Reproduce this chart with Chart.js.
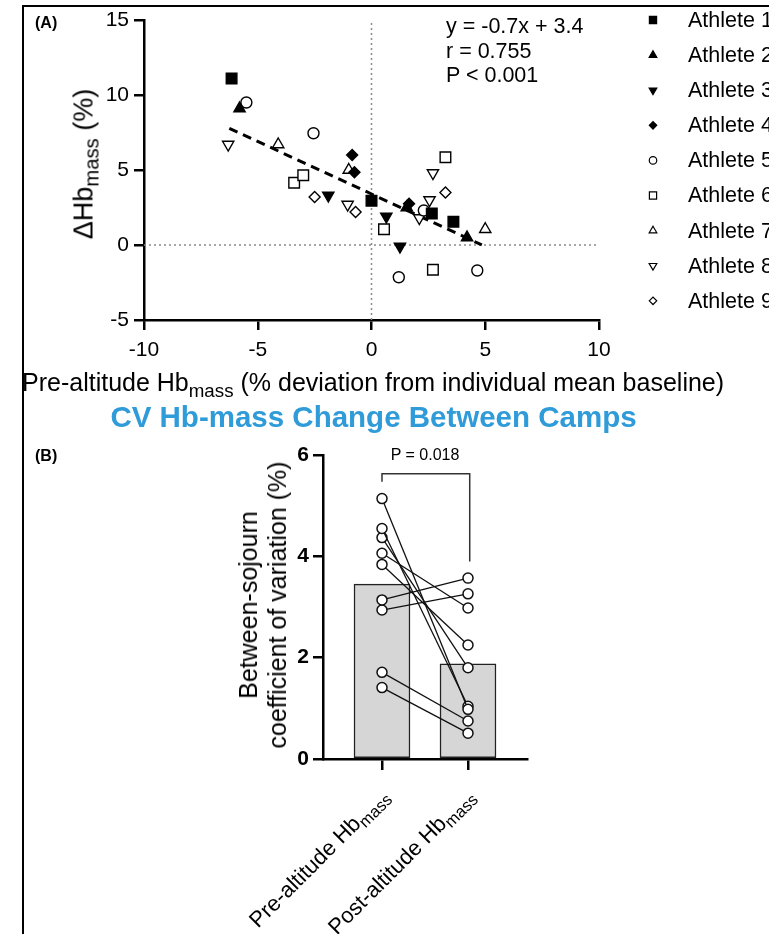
<!DOCTYPE html>
<html>
<head>
<meta charset="utf-8">
<script src="https://cdn.jsdelivr.net/npm/chart.js@4.4.0/dist/chart.umd.min.js"></script>
<style>
  body { margin: 0; width: 769px; height: 934px; position: relative; overflow: hidden; background: #fff;
         font-family: "Liberation Sans", Arial, sans-serif; color: #000; }
  .abs { position: absolute; white-space: nowrap; }
  .sub { font-size: 0.75em; position: relative; top: 0.3em; }
  canvas { position: absolute; left: 0; }
</style>
</head>
<body>
<div class="abs" style="left:22px;top:5px;width:800px;height:960px;border-left:2px solid #000;border-top:2px solid #000;"></div>

<canvas id="chartA" width="769" height="400" style="top:0"></canvas>
<canvas id="chartB" width="769" height="504" style="top:430px"></canvas>

<div class="abs" style="left:35px;top:14px;font-size:16px;font-weight:bold;">(A)</div>
<div class="abs" style="left:35px;top:447px;font-size:16px;font-weight:bold;">(B)</div>
<div id="stats" class="abs" style="left:446px;top:14px;font-size:21.5px;line-height:24.5px;"></div>
<div id="ytitleA" class="abs" style="left:84px;top:164px;font-size:27px;transform:translate(-50%,-50%) rotate(-90deg);"></div>
<div id="xtitleA" class="abs" style="left:22px;top:368px;font-size:25px;"></div>
<div id="mainTitle" class="abs" style="left:0;width:747px;top:400px;text-align:center;font-size:29.5px;font-weight:bold;color:#2f9bd8;"></div>
<div id="ytitleB" class="abs" style="left:263px;top:605px;font-size:25px;line-height:29px;text-align:center;transform:translate(-50%,-50%) rotate(-90deg);"></div>
<div id="pLabel" class="abs" style="left:425px;top:446px;font-size:16px;transform:translateX(-50%);"></div>

<script>
// ---- panel A data: pre-altitude deviation (x) vs change in Hb mass (y), per athlete
var athleteNames = ['Athlete 1', 'Athlete 2', 'Athlete 3', 'Athlete 4', 'Athlete 5',
                    'Athlete 6', 'Athlete 7', 'Athlete 8', 'Athlete 9'];
var preDevX = [
    [-6.15, 0.0, 2.65, 3.6],
    [-5.8, 1.55, 4.2],
    [-1.9, 0.65, 1.25],
    [-0.85, -0.75, 1.65],
    [-5.5, -2.55, 2.3, 1.2, 4.65],
    [-3.4, -3.0, 0.55, 3.25, 2.7],
    [-4.1, -1.0, 5.0],
    [-6.3, -1.05, 2.1, 2.55, 2.7],
    [-2.5, -0.7, 3.25]
];
var deltaHbY = [
    [11.1, 2.95, 2.1, 1.55],
    [9.1, 2.5, 0.5],
    [3.3, 1.9, -0.1],
    [6.0, 4.85, 2.75],
    [9.5, 7.45, 2.3, -2.15, -1.7],
    [4.15, 4.65, 1.05, 5.85, -1.65],
    [6.7, 5.0, 1.05],
    [6.7, 2.7, 1.8, 3.0, 4.8],
    [3.2, 2.2, 3.5]
];
var fitSlope = -0.7;
var fitIntercept = 3.4;
var fitXRange = [-6.25, 4.85];
var fitR = '0.755';
var fitP = '< 0.001';
var xTicksA = [-10, -5, 0, 5, 10];
var yTicksA = [-5, 0, 5, 10, 15];

// ---- panel B data: between-sojourn CV (%)
var cvCategories = ['Pre-altitude Hb_mass', 'Post-altitude Hb_mass'];
var cvMeans = [3.45, 1.88];
var cvPre = [5.14, 4.55, 4.37, 4.06, 3.84, 3.14, 2.94, 1.71, 1.41];
var cvPost = [0.98, 1.04, 1.80, 2.98, 2.25, 3.57, 3.26, 0.75, 0.51];
var pairP = 'P = 0.018';

// marker styles per athlete
var athleteStyles = ['rect', 'triangle', 'triangle', 'rectRot', 'circle', 'rect', 'triangle', 'triangle', 'rectRot'];
var athleteRotation = [0, 0, 180, 0, 0, 0, 0, 180, 0];
var athleteFilled = [true, true, true, true, false, false, false, false, false];
var athleteRadius = [7.5, 6.5, 6.5, 5.5, 5.5, 7.5, 6.5, 6.5, 5.5];

var FONT = '"Liberation Sans", Arial, sans-serif';

function subHtml(s) {
    var parts = s.split('_');
    return parts.length > 1 ? parts[0] + '<span class="sub">' + parts[1] + '</span>' : s;
}

document.getElementById('stats').innerHTML =
    'y = ' + fitSlope + 'x + ' + fitIntercept + '<br>r = ' + fitR + '<br>P ' + fitP;
document.getElementById('ytitleA').innerHTML = '&Delta;' + subHtml('Hb_mass') + ' (%)';
document.getElementById('xtitleA').innerHTML = subHtml('Pre-altitude Hb_mass') + ' (% deviation from individual mean baseline)';
document.getElementById('mainTitle').textContent = 'CV Hb-mass Change Between Camps';
document.getElementById('ytitleB').innerHTML = 'Between-sojourn<br>coefficient of variation (%)';
document.getElementById('pLabel').textContent = pairP;

// ---------- Panel A ----------
var datasetsA = [];
for (let i = 0; i < athleteNames.length; i++) {
    datasetsA.push({
        label: athleteNames[i],
        data: preDevX[i].map((x, j) => ({ x: x, y: deltaHbY[i][j] })),
        pointStyle: athleteStyles[i],
        rotation: athleteRotation[i],
        pointRadius: athleteRadius[i],
        backgroundColor: athleteFilled[i] ? '#000' : '#fff',
        borderColor: '#000',
        borderWidth: 1.4,
        showLine: false,
        order: 1
    });
}
datasetsA.push({
    label: 'fit',
    data: fitXRange.map(x => ({ x: x, y: fitSlope * x + fitIntercept })),
    showLine: true,
    borderColor: '#000',
    borderWidth: 3,
    borderDash: [9, 6],
    pointRadius: 0,
    order: 2
});
// dotted zero lines
datasetsA.push({
    label: 'zeroY',
    data: [{ x: xTicksA[0], y: 0 }, { x: xTicksA[xTicksA.length - 1], y: 0 }],
    showLine: true, borderColor: '#8a8a8a', borderWidth: 1.5, borderDash: [2, 3], pointRadius: 0, order: 3
});
datasetsA.push({
    label: 'zeroX',
    data: [{ x: 0, y: yTicksA[0] }, { x: 0, y: yTicksA[yTicksA.length - 1] }],
    showLine: true, borderColor: '#8a8a8a', borderWidth: 1.5, borderDash: [2, 3], pointRadius: 0, order: 3
});

var athleteLegend = {
    id: 'athleteLegend',
    afterDraw(chart) {
        const ctx = chart.ctx;
        ctx.save();
        ctx.font = '21.5px ' + FONT;
        ctx.textBaseline = 'middle';
        for (let i = 0; i < athleteNames.length; i++) {
            const y = 20 + i * 35.1;
            ctx.fillStyle = athleteFilled[i] ? '#000' : '#fff';
            ctx.strokeStyle = '#000';
            ctx.lineWidth = 1.2;
            Chart.helpers.drawPoint(ctx, {
                pointStyle: athleteStyles[i], rotation: athleteRotation[i],
                radius: athleteRadius[i] * 0.68, borderWidth: 1.2
            }, 653, y);
            ctx.fillStyle = '#000';
            ctx.fillText(athleteNames[i], 688, y + 1);
        }
        ctx.restore();
    }
};

new Chart(document.getElementById('chartA'), {
    type: 'scatter',
    data: { datasets: datasetsA },
    options: {
        responsive: false,
        animation: false,
        layout: { padding: { left: 0, right: 170, top: 20, bottom: 0 } },
        plugins: { legend: { display: false }, tooltip: { enabled: false } },
        scales: {
            x: {
                type: 'linear', min: xTicksA[0], max: xTicksA[xTicksA.length - 1],
                afterBuildTicks: s => { s.ticks = xTicksA.map(v => ({ value: v })); },
                afterFit: s => { s.height = 80; },
                grid: { drawOnChartArea: false, color: '#000', lineWidth: 2.5, tickLength: 10 },
                border: { color: '#000', width: 2.5 },
                ticks: { color: '#000', font: { size: 21, family: FONT }, padding: 8, maxRotation: 0 }
            },
            y: {
                type: 'linear', min: yTicksA[0], max: yTicksA[yTicksA.length - 1],
                afterBuildTicks: s => { s.ticks = yTicksA.map(v => ({ value: v })); },
                afterFit: s => { s.width = 144; },
                grid: { drawOnChartArea: false, color: '#000', lineWidth: 2.5, tickLength: 10 },
                border: { color: '#000', width: 2.5 },
                ticks: { color: '#000', font: { size: 21, family: FONT }, padding: 5 }
            }
        }
    },
    plugins: [athleteLegend]
});

// ---------- Panel B ----------
var datasetsB = [];
for (let i = 0; i < cvPre.length; i++) {
    datasetsB.push({
        type: 'line',
        data: [{ x: 1, y: cvPre[i] }, { x: 2, y: cvPost[i] }],
        borderColor: '#111',
        borderWidth: 1.3,
        pointRadius: 5,
        pointBackgroundColor: '#fff',
        pointBorderColor: '#111',
        pointBorderWidth: 1.5,
        order: 1
    });
}
datasetsB.push({
    type: 'bar',
    data: cvMeans.map((v, i) => ({ x: i + 1, y: v })),
    barThickness: 56,
    backgroundColor: '#d6d6d6',
    borderColor: '#222',
    borderWidth: 1.5,
    borderSkipped: false,
    order: 5
});

var bracket = {
    id: 'bracket',
    afterDatasetsDraw(chart) {
        const x = chart.scales.x, y = chart.scales.y, ctx = chart.ctx;
        const top = y.getPixelForValue(5.63);
        ctx.save();
        ctx.strokeStyle = '#333';
        ctx.lineWidth = 1.5;
        ctx.beginPath();
        ctx.moveTo(x.getPixelForValue(1), y.getPixelForValue(5.47));
        ctx.lineTo(x.getPixelForValue(1), top);
        ctx.lineTo(x.getPixelForValue(2.02), top);
        ctx.lineTo(x.getPixelForValue(2.02), y.getPixelForValue(3.9));
        ctx.stroke();
        ctx.restore();
    }
};

new Chart(document.getElementById('chartB'), {
    type: 'bar',
    data: { datasets: datasetsB },
    options: {
        responsive: false,
        animation: false,
        layout: { padding: { left: 0, right: 242, top: 25, bottom: 0 } },
        plugins: { legend: { display: false }, tooltip: { enabled: false } },
        scales: {
            x: {
                type: 'linear', min: 1 - 59 / 86, max: 2 + 59 / 86, offset: false,
                afterBuildTicks: s => { s.ticks = [{ value: 1 }, { value: 2 }]; },
                afterFit: s => { s.height = 175; },
                grid: { offset: false, drawOnChartArea: false, color: '#000', lineWidth: 2.5, tickLength: 11 },
                border: { color: '#000', width: 2.5 },
                ticks: { callback: () => '' }
            },
            y: {
                type: 'linear', min: 0, max: 6,
                ticks: { stepSize: 2, color: '#000', font: { size: 21, weight: 'bold', family: FONT }, padding: 4 },
                afterFit: s => { s.width = 323; },
                grid: { drawOnChartArea: false, color: '#000', lineWidth: 2.5, tickLength: 10 },
                border: { color: '#000', width: 2.5 }
            }
        }
    },
    plugins: [bracket]
});

// rotated category labels under panel B
var catAnchorX = [385, 471];
cvCategories.forEach((c, i) => {
    var d = document.createElement('div');
    d.className = 'abs';
    d.style.cssText = 'right:' + (769 - catAnchorX[i]) + 'px;top:780px;font-size:22px;line-height:24px;' +
        'transform-origin:100% 50%;transform:rotate(-45deg);';
    d.innerHTML = subHtml(c);
    document.body.appendChild(d);
});
</script>
</body>
</html>
